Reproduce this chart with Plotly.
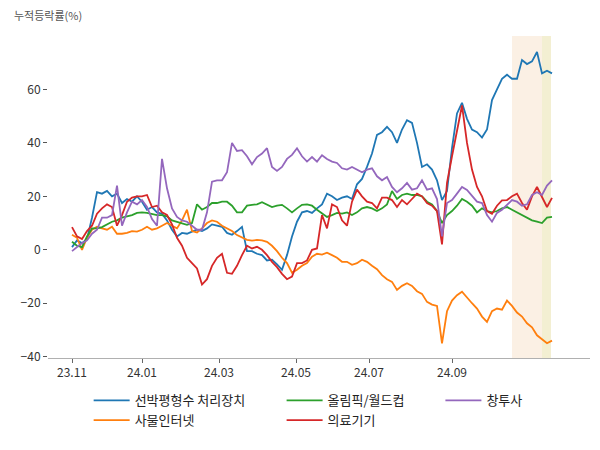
import plotly.graph_objects as go

# ---- data (cumulative change, %) ----
tick_pos = [0, 14, 29.4, 44.8, 59.4, 76]
tick_labels = ["23.11", "24.01", "24.03", "24.05", "24.07", "24.09"]

names = ["선박평형수 처리장치", "사물인터넷", "올림픽/월드컵", "의료기기", "창투사"]

ballast = [1, 3.5, 2.5, 4, 12, 21.6, 21, 22, 20, 21, 17.5, 19, 18, 20, 18, 15, 16, 14, 13.5, 11,
           7.5, 5, 6.3, 6, 6.8, 7.5, 7, 8, 9.5, 9, 8.6, 6.3, 5.6, 7, 8.6, -0.5, -0.5, -1.5, -2, -4,
           -3.7, -5.5, -7.5, -2, 5, 10.5, 14, 14.5, 13.8, 15.5, 17, 21, 20, 18.6, 19.5, 20, 19, 24.5, 26.5, 31,
           36, 43, 44, 46, 44, 40, 45, 48.5, 47.5, 40, 31, 32, 30, 26, 18.6, 22, 38, 51, 55, 49,
           45, 44, 42, 45, 56, 60, 64, 65.5, 64, 64, 71, 69.5, 70.5, 74, 66, 67, 66]

iot = [5.6, 4.5, 0, 4.5, 7.5, 8.6, 8, 7.5, 8.6, 6, 6, 6.3, 7, 6.8, 7.5, 8.6, 7.5, 8, 9, 10,
       9, 8, 11, 15, 7, 6.5, 8, 10, 11, 10.5, 9, 8, 7, 5.5, 4.5, 3.7, 3.4, 3.7, 3.5, 3,
       1.5, -0.5, -3, -5, -8.6, -7.5, -6, -5, -2.6, -1.5, -1.8, -1.1, -2, -3, -4.5, -4.5, -5.6, -5, -3.7, -4.5,
       -6, -7.3, -9.5, -11, -12, -15, -13.5, -12.5, -13.5, -15.5, -16.5, -19.5, -20.5, -21, -35, -23, -19, -17, -15.7, -18,
       -20, -22, -25, -27, -23, -22, -22.4, -19, -21, -23.5, -25, -27.5, -29, -32, -33.6, -35, -34]

olympic = [3, 1.5, 1, 5, 8, 8, 8.5, 9.5, 10.5, 11, 12, 12.5, 13, 13.8, 14, 13.8, 13.5, 13, 13, 12.5,
           11, 10.5, 10, 9.3, 10, 17, 15, 16, 17.5, 17.5, 18, 18, 16.5, 14, 14, 16.5, 16.8, 17, 17.8, 17,
           16, 16.5, 16.8, 15.5, 14, 15.5, 16.8, 17, 16.5, 15, 13.8, 12.3, 13, 13.8, 13.5, 14, 13, 14, 15.5, 16,
           15.5, 14.5, 15.5, 17, 22, 19, 20.5, 21, 20.5, 20.5, 20, 18, 17, 14.5, 10, 13, 14.5, 16.5, 19, 18,
           16.5, 14, 15.5, 14.5, 14, 14.5, 15.5, 16, 15, 14, 13, 12, 11, 10.5, 10, 12, 12.3]

medical = [8.5, 5, 4, 7, 9, 13.5, 15.5, 17, 16, 9, 13, 18, 19.5, 20, 20, 20.5, 16, 16.5, 14, 13,
           9.5, 4.5, 1.5, -3, -5, -7, -13, -11, -6, -3, -1.5, -8.6, -9, -6, -2, 1.5, 0.5, 1.1, 0, -2,
           -4.5, -6.5, -9, -11, -10, -5, -5, -4, 0, 0.5, 13, 8, 17, 16, 11, 9, 18, 22.5, 20, 18,
           17.5, 15.5, 19.5, 19.5, 18.6, 16, 18.6, 17, 19, 21, 20, 17.5, 16.5, 14.5, 2, 25, 35, 45, 54, 40,
           30, 23.5, 20, 14.5, 13.5, 16.5, 18.5, 18.6, 20, 21, 17.5, 15, 20, 23.5, 20, 16, 19.4]

vc = [-0.5, 1.1, 2.5, 3.5, 6, 7.5, 12, 12, 13, 24, 9, 14, 18, 17, 18.6, 16, 11.5, 9, 34, 23,
      15.5, 12.3, 11, 10.5, 9, 7.5, 7.5, 14, 25.5, 26, 26, 29, 40, 37, 37.3, 35, 32, 34.7, 36, 38,
      31, 29.5, 31, 34, 35.5, 38, 35, 33, 34.7, 33, 35.4, 34, 33, 32.5, 30.5, 30, 31, 30, 29, 30,
      30.5, 27.5, 26, 27.2, 23.5, 21.5, 23, 25, 22.5, 23, 26, 22.5, 23, 19, 5, 17.5, 18.6, 21, 23.5, 22.4,
      20, 18, 17.5, 13, 10.5, 13.8, 15, 17, 18.6, 18, 16.5, 17, 20.5, 21.5, 20.5, 24, 26]

series = [ballast, iot, olympic, medical, vc]
colors = ["#1f77b4", "#ff7f0e", "#2ca02c", "#d62728", "#9467bd"]
legend_of = ["legend", "legend", "legend2", "legend2", "legend3"]

shade1 = (88, 94)
shade2 = (94, 95.8)

fig = go.Figure()
for name, vals, col, lg in zip(names, series, colors, legend_of):
    fig.add_trace(go.Scatter(
        x=list(range(len(vals))), y=vals, mode="lines", name=name,
        line=dict(color=col, width=1.8), legend=lg))

fig.add_vrect(x0=shade1[0], x1=shade1[1], fillcolor="#fbf0e4", opacity=1,
              line_width=0, layer="below")
fig.add_vrect(x0=shade2[0], x1=shade2[1], fillcolor="#f3efd2", opacity=1,
              line_width=0, layer="below")

font_family = "Noto Sans CJK KR, Noto Sans, sans-serif"
leg_common = dict(orientation="v", yanchor="top", y=-0.085, xanchor="left",
                  font=dict(size=13, color="#222", family=font_family),
                  bgcolor="rgba(0,0,0,0)", itemwidth=36, tracegroupgap=0)

fig.update_layout(
    width=592, height=442,
    margin=dict(l=40, r=10, t=28, b=92, autoexpand=False),
    paper_bgcolor="white", plot_bgcolor="white",
    font=dict(family=font_family, size=12, color="#333"),
    showlegend=True,
    legend=dict(x=0.075, **leg_common),
    legend2=dict(x=0.431, **leg_common),
    legend3=dict(x=0.724, **leg_common),
    xaxis=dict(range=[-4.8, 103.6], tickvals=tick_pos, ticktext=tick_labels,
               showgrid=False, zeroline=False, showline=True, linecolor="#b0b0b0",
               linewidth=1, ticks="outside", ticklen=4, tickcolor="#666",
               tickfont=dict(size=12, color="#333"), automargin=False),
    yaxis=dict(range=[-40.5, 80], tickvals=[-40, -20, 0, 20, 40, 60],
               showgrid=False, zeroline=False, showline=False,
               ticks="outside", ticklen=4, tickcolor="#555",
               tickfont=dict(size=12, color="#333"), automargin=False),
    annotations=[dict(text="누적등락률(%)", xref="paper", yref="paper",
                      x=-0.0664, y=1.0652, xanchor="left", yanchor="middle",
                      showarrow=False, font=dict(size=11, color="#555", family=font_family))],
)

fig.write_html("out.html")
